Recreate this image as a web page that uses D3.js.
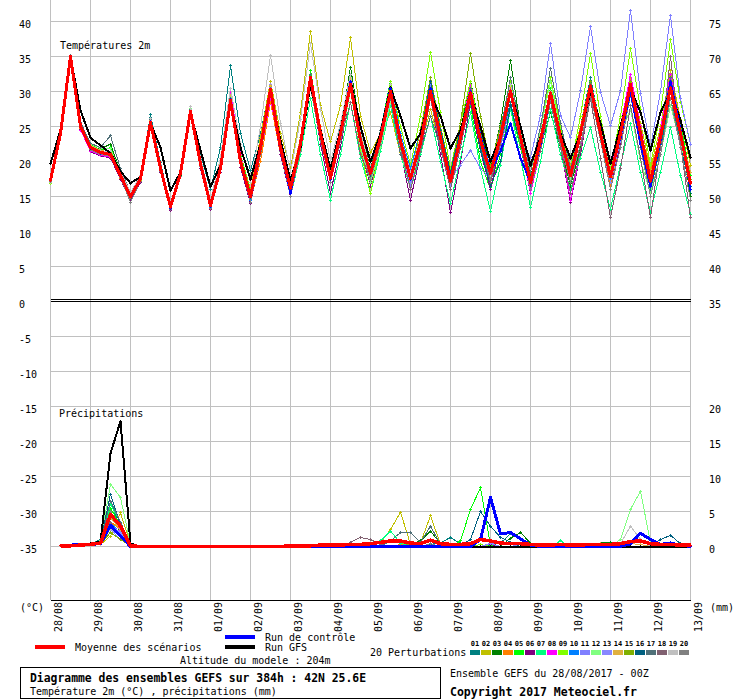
<!DOCTYPE html>
<html>
<head>
<meta charset="utf-8">
<script src="https://cdn.jsdelivr.net/npm/d3@7"></script>
<style>
  body { margin: 0; background: #fff; }
  text { font-family: "DejaVu Sans Mono", monospace; font-size: 10px; fill: #000; }
</style>
</head>
<body>
<script>
// dates at 00Z, one every 4 steps of 6h
const dates = ["28/08","29/08","30/08","31/08","01/09","02/09","03/09","04/09","05/09",
  "06/09","07/09","08/09","09/09","10/09","11/09","12/09","13/09"];
const tempTicks = [40,35,30,25,20,15,10,5,0,-5,-10,-15,-20,-25,-30,-35];
const rightTicks = [75,70,65,60,55,50,45,40,35];
const rainTicks = [20,15,10,5,0];
const pertLabels = ["01","02","03","04","05","06","07","08","09","10",
  "11","12","13","14","15","16","17","18","19","20"];
const pertColors = ["#008080","#c0c000","#008000","#ff8000","#00ff00","#800080","#00ff80","#ff00ff",
  "#80ff00","#0080ff","#8080ff","#80ff80","#8888ff","#e0b040","#80b000","#006080",
  "#507078","#806070","#c0c0c0","#808080"];

// 2m temperature (°C), 6-hourly, 65 points
const tempMean = [17.3,24.0,35.0,25.0, 22.0,21.3,21.0,18.0, 15.0,17.5,25.6,19.0, 13.5,18.3,27.2,19.7, 13.7,19.0,28.7,20.0, 15.0,22.0,30.3,22.0, 16.2,22.5,32.0,24.0, 17.6,24.0,31.0,23.0, 18.3,23.4,30.0,22.9, 17.6,22.7,30.0,23.4, 17.2,23.4,29.8,23.0, 18.3,23.5,30.1,23.5, 17.0,23.0,29.8,23.5, 18.0,24.0,30.8,24.0, 17.8,24.0,31.0,24.0, 17.2,23.5,30.5,24.0, 16.8];
const tempGfs = [19.7,24.5,35.0,27.3, 23.4,22.3,21.2,18.6, 16.9,17.8,25.5,22.0, 15.8,18.5,27.0,21.6, 16.4,19.5,28.5,22.0, 17.5,22.5,30.0,23.0, 17.3,22.0,31.0,24.5, 19.0,24.5,31.5,25.0, 20.0,24.0,30.6,26.5, 21.9,24.0,29.5,26.5, 21.9,24.5,29.5,25.0, 20.0,23.5,30.0,25.0, 19.5,23.5,29.5,24.0, 20.5,24.0,30.0,25.5, 19.7,25.0,30.5,27.0, 21.6,27.0,30.0,25.9, 20.6];
const tempCtrl = [17.3,24.0,35.0,25.0, 21.9,21.2,21.0,18.0, 15.0,17.5,25.7,19.0, 13.3,18.2,27.2,19.6, 13.6,19.0,28.8,20.0, 15.0,22.0,30.0,22.0, 15.5,22.5,32.0,24.0, 17.5,24.0,31.5,23.0, 18.5,23.5,30.5,23.0, 17.5,22.5,30.5,23.5, 17.5,23.5,30.0,23.5, 18.5,21.5,25.4,20.5, 17.0,22.5,29.5,23.5, 18.0,24.0,30.5,24.0, 18.0,23.5,30.0,22.5, 16.5,23.0,31.5,24.5, 16.0];
const tempPert = [
  [17.0,24.2,35.1,25.5, 22.3,21.5,21.4,18.4, 15.3,18.0,26.7,19.8, 13.8,18.5,27.8,21.0, 16.0,22.0,33.7,24.0, 18.7,24.0,31.0,23.0, 17.0,23.0,32.5,25.0, 18.5,25.0,32.0,24.0, 19.0,24.5,31.5,23.0, 18.0,23.0,31.0,24.5, 18.5,24.0,30.5,22.0, 17.0,22.5,28.5,22.0, 16.0,22.0,29.0,24.0, 19.0,25.0,32.0,25.0, 18.5,24.0,29.5,22.0, 16.0,22.0,29.0,23.0, 15.5],
  [17.4,23.8,34.8,24.8, 21.8,21.2,20.8,17.8, 14.8,17.3,25.3,18.8, 13.4,18.0,27.0,19.5, 13.8,19.5,29.0,21.0, 16.0,23.5,31.5,24.0, 19.0,27.0,38.6,28.0, 22.8,28.0,37.7,26.5, 21.3,24.0,27.0,21.0, 17.0,22.0,27.5,22.0, 16.5,23.0,30.5,24.0, 19.0,24.0,31.0,23.0, 17.5,24.5,31.5,25.0, 19.5,25.0,31.5,23.5, 17.0,23.5,32.0,25.5, 19.0,25.0,33.0,26.0, 19.5],
  [16.8,23.8,34.9,25.2, 22.2,21.8,22.5,18.5, 15.0,17.8,25.8,19.2, 13.3,18.0,27.4,19.4, 13.5,18.8,28.5,19.8, 14.5,21.5,29.8,21.5, 15.8,22.0,31.0,23.5, 17.0,24.5,33.5,24.5, 19.0,24.0,31.0,23.5, 18.0,23.0,30.5,24.0, 17.5,24.5,31.5,24.5, 19.0,25.5,34.4,25.0, 18.0,22.0,27.0,22.0, 16.5,22.0,29.5,23.0, 17.0,23.5,31.0,24.5, 18.0,23.0,31.5,24.5, 15.0],
  [17.2,24.1,35.0,24.7, 21.6,21.0,20.7,17.6, 14.6,17.2,25.4,18.6, 13.0,18.4,27.0,19.8, 13.4,19.2,29.0,20.5, 14.5,20.0,28.5,21.0, 15.5,23.0,32.5,25.0, 18.5,24.5,31.5,24.0, 18.5,23.5,30.5,23.5, 18.5,23.5,31.0,24.0, 17.5,23.0,29.0,22.5, 18.0,23.5,30.5,24.0, 17.5,23.5,30.0,23.5, 18.5,24.5,30.0,23.0, 16.5,23.0,31.0,24.5, 18.5,24.0,31.5,24.0, 17.5],
  [17.0,24.3,35.2,25.3, 22.4,21.6,22.0,18.3, 15.2,17.6,25.9,19.5, 13.6,18.6,27.5,20.2, 14.0,19.5,29.5,21.0, 15.5,22.5,30.5,22.5, 16.5,23.0,33.0,24.5, 18.0,24.5,32.0,23.5, 18.5,24.0,31.5,24.0, 18.5,23.5,30.0,23.0, 17.0,23.0,28.0,20.0, 16.0,21.0,27.5,22.0, 16.5,23.0,30.5,24.5, 18.5,24.0,31.0,24.5, 18.0,25.0,32.5,25.0, 17.5,24.0,32.0,25.5, 18.0],
  [17.1,23.9,34.9,24.6, 21.4,20.8,20.5,17.5, 14.4,17.0,25.0,18.5, 13.0,17.8,26.8,19.0, 13.2,18.5,28.0,19.2, 14.0,21.0,29.5,21.0, 15.0,21.5,31.0,22.5, 15.5,22.0,30.5,22.0, 16.5,22.5,30.0,21.5, 14.5,21.0,29.5,21.0, 12.7,20.0,28.5,21.5, 16.0,22.5,30.0,22.5, 15.5,22.0,29.0,22.0, 14.2,21.0,29.5,23.0, 16.0,22.5,30.5,23.5, 16.5,23.0,31.5,24.5, 17.5],
  [17.2,24.0,35.1,25.0, 22.1,21.4,21.2,18.2, 15.1,17.5,25.5,19.0, 13.6,18.2,27.1,19.6, 13.6,19.0,28.8,20.2, 15.5,22.0,30.0,21.5, 15.0,21.0,29.0,21.0, 14.5,21.0,28.5,20.5, 15.5,21.5,28.0,21.0, 16.0,21.0,26.5,20.0, 14.0,20.5,27.0,19.0, 12.9,19.5,27.5,20.5, 13.4,20.0,27.5,21.0, 16.0,20.5,24.9,18.5, 13.2,19.5,25.4,18.5, 12.7,18.5,24.9,18.0, 12.5],
  [17.3,24.0,34.8,24.5, 21.5,20.9,20.6,17.8, 14.8,17.4,25.5,18.8, 13.2,18.1,27.0,19.5, 13.5,19.5,30.0,21.0, 14.5,21.0,29.0,21.5, 15.5,22.0,31.5,23.0, 17.0,23.5,30.5,23.0, 18.0,23.0,30.0,22.5, 17.0,23.0,30.5,23.5, 17.0,24.0,31.0,23.5, 18.5,24.0,31.0,23.0, 15.5,21.5,28.5,22.5, 14.5,21.5,29.5,24.0, 18.5,25.0,32.5,25.0, 17.5,24.5,32.5,25.0, 17.0],
  [16.9,23.9,35.0,25.1, 22.0,21.2,20.9,18.0, 15.0,17.7,25.8,19.1, 13.5,18.4,27.3,19.8, 13.8,19.2,28.9,20.4, 15.2,22.2,30.5,22.0, 16.5,23.0,32.5,24.0, 17.0,23.0,30.5,21.5, 15.4,22.5,31.5,25.0, 19.5,26.5,35.6,27.0, 19.0,25.5,31.5,24.0, 18.5,24.5,31.5,24.5, 18.5,25.0,32.0,25.0, 19.0,26.5,35.4,26.5, 19.0,26.5,36.1,27.5, 19.5,27.0,37.4,28.5, 22.5],
  [17.5,24.2,35.0,25.2, 22.2,21.5,21.2,18.3, 15.4,17.8,25.7,19.3, 13.4,18.3,27.2,19.8, 13.5,19.0,28.5,20.0, 14.5,21.5,29.5,22.0, 15.5,22.5,32.0,24.5, 18.0,24.0,31.5,23.5, 18.5,24.0,31.0,24.0, 19.0,24.5,31.5,24.0, 18.5,24.0,30.0,23.0, 19.5,24.5,31.0,23.5, 16.5,22.5,29.5,23.0, 17.5,23.5,30.5,24.0, 17.5,23.5,30.0,23.0, 17.0,23.0,31.0,25.0, 16.5],
  [17.2,23.9,34.9,24.8, 21.8,21.1,20.9,17.9, 14.9,17.4,25.5,18.9, 13.3,18.2,27.0,19.6, 13.6,18.8,28.5,19.8, 14.8,22.0,30.5,22.5, 16.0,22.0,31.5,23.5, 17.5,23.5,30.0,22.5, 17.0,22.0,29.0,22.0, 16.5,22.5,31.0,24.0, 17.5,19.5,21.6,19.0, 17.5,22.0,28.0,23.0, 20.6,26.6,36.9,26.6, 23.4,30.1,39.3,29.9, 25.1,30.1,41.6,29.7, 22.0,30.0,40.9,29.0, 22.5],
  [17.0,24.1,35.1,25.4, 22.5,21.9,21.8,18.6, 15.3,17.9,26.0,19.4, 13.7,18.6,27.6,20.0, 13.9,19.4,29.2,20.6, 15.4,22.5,30.0,22.0, 16.0,22.0,31.0,23.0, 17.5,23.0,30.0,22.0, 17.0,22.0,28.5,21.5, 16.0,22.0,29.5,23.5, 17.5,23.5,30.5,24.0, 18.5,24.0,31.0,24.5, 18.5,24.5,31.5,24.0, 17.5,23.5,31.5,25.0, 18.5,24.0,27.5,20.0, 15.5,21.0,28.0,22.5, 16.0],
  [17.3,24.0,35.0,25.1, 21.9,21.3,21.1,18.1, 15.0,17.5,25.6,19.0, 13.5,18.3,27.2,19.7, 13.9,19.3,28.5,20.3, 15.5,22.5,31.0,22.5, 16.5,22.5,31.5,23.5, 17.5,24.0,31.5,23.0, 18.0,23.0,29.0,22.0, 17.0,22.0,29.0,22.5, 16.5,22.5,29.5,23.0, 18.0,23.0,29.5,23.0, 17.0,22.5,29.0,23.0, 18.0,23.5,30.0,23.5, 17.0,23.0,30.5,24.0, 16.5,23.0,30.0,23.5, 16.0],
  [17.4,24.2,35.2,25.3, 22.3,21.6,21.3,18.4, 15.2,17.7,25.9,19.4, 13.6,18.5,27.4,20.0, 13.8,19.6,29.4,20.8, 15.2,22.3,30.8,22.8, 17.0,23.5,32.5,24.5, 18.0,24.5,32.0,24.5, 18.5,24.0,30.5,23.0, 17.5,23.0,30.5,24.0, 18.0,24.0,30.0,23.5, 18.5,24.0,29.5,23.0, 17.5,23.0,29.0,23.5, 18.0,24.0,30.5,24.0, 18.0,24.5,31.5,24.5, 18.0,24.0,30.5,24.0, 18.5],
  [17.1,23.8,34.9,24.9, 21.9,21.4,21.5,18.2, 14.9,17.4,25.4,18.9, 13.4,18.2,27.1,19.5, 13.7,19.0,28.8,20.2, 15.3,22.0,30.0,21.8, 16.2,22.5,32.0,24.0, 17.5,24.0,31.5,23.5, 18.0,23.5,30.5,23.5, 18.0,24.5,32.0,25.0, 18.5,25.5,35.4,26.5, 19.5,25.0,31.0,24.0, 17.5,23.0,29.5,23.5, 18.0,24.0,31.5,24.5, 18.5,24.5,31.5,24.5, 17.5,24.0,31.0,24.5, 17.5],
  [17.2,24.0,35.0,25.0, 22.0,21.4,21.2,18.2, 15.1,17.6,25.7,19.1, 13.4,18.2,27.1,19.6, 13.6,18.9,28.6,19.9, 14.8,21.8,30.0,21.8, 16.0,22.5,32.0,23.5, 17.5,23.5,31.0,23.0, 18.0,23.5,30.5,23.5, 18.0,23.5,31.5,24.5, 18.5,24.5,30.5,21.5, 16.5,20.0,28.0,22.5, 16.5,22.5,29.5,23.5, 18.0,23.5,30.0,23.5, 18.5,24.0,30.5,24.0, 17.5,23.0,29.0,22.0, 16.5],
  [17.3,24.1,35.1,25.6, 22.6,22.0,23.7,19.0, 15.5,18.0,26.0,19.5, 13.8,18.6,27.5,20.2, 14.0,19.3,29.0,20.5, 15.0,21.5,29.5,21.5, 16.5,23.0,32.5,24.0, 18.0,24.5,31.5,23.5, 18.5,24.5,29.0,21.0, 18.0,21.5,26.5,22.0, 17.5,23.5,30.5,24.0, 18.5,24.5,32.0,25.0, 18.5,25.0,33.3,25.5, 19.0,24.5,31.0,24.0, 18.0,24.0,31.0,23.5, 17.0,24.0,32.0,25.0, 17.0],
  [17.4,24.1,34.9,25.0, 21.8,21.2,20.9,18.0, 15.0,17.4,25.5,18.9, 13.5,18.3,27.0,19.6, 13.6,19.0,28.7,20.0, 15.0,22.0,30.5,22.0, 16.0,22.0,31.0,23.0, 17.0,23.0,28.5,21.0, 17.5,22.5,29.5,22.0, 16.0,21.5,29.0,22.0, 16.0,22.0,29.0,22.5, 17.0,22.5,29.5,23.0, 16.0,21.5,28.5,22.0, 15.5,21.5,29.0,20.5, 12.0,19.0,28.0,20.5, 12.0,22.0,35.0,22.5, 12.0],
  [17.0,24.0,35.0,25.2, 22.1,21.5,21.4,18.5, 15.6,18.0,26.2,19.6, 14.0,18.8,27.8,20.5, 14.5,20.5,30.5,22.5, 17.0,25.0,35.2,25.5, 18.5,26.0,36.9,27.5, 20.0,25.5,32.5,24.5, 18.5,24.0,31.0,23.5, 18.5,23.5,30.5,23.5, 17.5,23.5,30.0,23.5, 18.0,24.0,31.0,24.0, 17.5,23.5,30.0,23.5, 18.0,24.0,30.5,24.0, 18.0,24.0,30.0,22.5, 17.0,23.5,31.0,24.5, 17.0],
  [17.2,23.9,34.8,24.8, 21.7,21.0,20.8,17.7, 14.2,17.2,25.2,18.6, 13.1,17.9,26.9,19.3, 13.3,18.8,28.2,19.7, 14.2,21.0,29.5,21.5, 15.0,21.5,30.5,23.0, 17.0,23.0,30.5,22.5, 17.5,23.0,30.0,22.5, 17.5,22.5,29.5,23.0, 17.0,23.0,30.0,23.0, 17.5,23.0,29.5,22.5, 16.0,22.0,29.0,22.5, 17.0,22.5,29.5,23.0, 16.0,22.0,29.5,22.0, 15.0,21.0,29.0,22.0, 14.5]
];

// 6-hour precipitation (mm), first step has no value
const rainMean = [null, 0.1,0.1,0.2,0.3,0.5,4.6,2.9,0.1, 0,0,0,0,0,0,0,0, 0,0,0,0,0,0,0,0.1, 0.1,0.1,0.2,0.2,0.2,0.3,0.3,0.4, 0.6,0.8,0.8,0.5,0.4,0.9,0.4,0.3, 0.3,0.4,1.0,0.8,0.5,0.4,0.4,0.3, 0.2,0.2,0.3,0.2,0.2,0.3,0.3,0.3, 0.4,0.7,0.8,0.4,0.3,0.3,0.2,0.2];
const rainGfs = [null, 0.1,0.1,0.3,0.4,0.7,13.3,17.9,0.4, 0,0,0,0,0,0,0,0, 0,0,0,0,0,0,0,0, 0,0,0,0,0,0,0,0, 0,0,0,0,0,0,0,0, 0,0,0,0,0,0,0,0, 0,0,0,0,0,0,0,0, 0,0,0,0,0,0,0,0];
const rainCtrl = [null, 0.1,0.2,0.3,0.3,0.4,3.0,1.5,0, 0,0,0,0,0,0,0,0, 0,0,0,0,0,0,0,0, 0,0,0,0,0,0,0,0, 0,0,0,0,0,0,0,0, 0,0,1.0,7.0,1.8,2.0,1.1,0.2, 0,0,0,0,0,0,0,0, 0,0.4,1.9,1.0,0.3,0.5,0.2,0];
const rainPert = [
  [null, 0.1,0.1,0.2,0.3,1.0,6.5,2.5,0.2, 0,0,0,0,0,0,0,0, 0,0,0,0,0,0,0,0.1, 0,0,0,0,0.2,0.1,0,0, 0,0,0,0,0,0.3,0.5,1.3, 0.4,0,0,0.2,0.5,1.8,1.0,0.3, 0,0,0,0,0,0,0,0, 0,0,0,0,0,0,0,0],
  [null, 0.1,0.1,0.2,0.2,0.3,1.5,4.8,0.3, 0,0,0,0,0,0,0,0, 0,0,0,0,0,0,0,0, 0,0,0,0,0,0,0,0.3, 0.5,2.4,4.9,0.3,0.5,4.4,0.3,0, 0,0,0,0,0,0,0,0, 0,0,0,0,0,0,0,0, 0,0,0,0,0,0,0,0],
  [null, 0.1,0.2,0.2,0.3,0.5,4.5,2.0,0.1, 0,0,0,0,0,0,0,0, 0,0,0,0,0,0,0,0, 0,0,0,0,0,0,0,0, 0,0,0,0.3,0.8,2.2,0.4,0, 0,0,0,0,0,1.2,2.0,0.5, 0,0,0,0,0,0,0.5,0.6, 0.3,0,0,0,0,0,0,0],
  [null, 0.1,0.1,0.2,0.2,0.4,3.5,2.5,0.1, 0,0,0,0,0,0,0,0, 0,0,0,0,0,0,0,0, 0,0,0,0,0,0,0,0, 0,0,0.3,0.5,0,0,0,0, 0,0,0,0,0,0,0,0, 0,0,0,0,0,0,0,0, 0,0,0,0,0,0,0,0],
  [null, 0.1,0.1,0.3,0.3,0.6,5.5,3.0,0.2, 0,0,0,0,0,0,0,0, 0,0,0,0,0,0,0,0, 0,0,0,0,0,0,0,0, 0,0,0,0,0,0,0,0, 0.8,5.3,8.4,0.2,0,0,0,0, 0,0,0,0,0,0,0,0, 0,0,0,0,0,0,0,0],
  [null, 0.1,0.1,0.2,0.2,0.3,3.0,1.5,0.1, 0,0,0,0,0,0,0,0, 0,0,0,0,0,0,0,0, 0,0,0,0,0,0,0,0, 0,0,0,0,0,0,0,0, 0,0,0,0.3,0,0,0,0, 0,0,0,0,0,0,0,0, 0,0,0,0,0,0,0,0],
  [null, 0.1,0.2,0.2,0.3,0.5,6.0,3.5,0.2, 0,0,0,0,0,0,0,0, 0,0,0,0,0,0,0,0, 0,0,0,0,0,0,0,0, 0.8,2.2,0.5,0,0,0,0,0, 0,0,0,0,0,0,0,0, 0,0,0.8,0,0,0,0,0, 0,0,0,0,0,0,0,0],
  [null, 0.1,0.1,0.2,0.3,0.6,5.0,2.0,0.1, 0,0,0,0,0,0,0,0, 0,0,0,0,0,0,0,0, 0,0,0,0,0,0,0,0, 0,0,0,0,0,0,0,0, 0,0,0,0,0,0,0,0, 0,0,0,0,0,0,0,0, 0,0,0,0,0,0,0,0],
  [null, 0.1,0.1,0.2,0.2,0.4,4.0,3.5,0.2, 0,0,0,0,0,0,0,0, 0,0,0,0,0,0,0,0, 0,0,0,0,0,0,0,0, 0,0,0,0,0,0,0,0, 0,0,0.3,0,0,0,0,0, 0,0,0,0,0,0,0,0, 0,0,0,0,0,0,0,0],
  [null, 0.1,0.1,0.2,0.2,0.3,3.5,1.8,0.1, 0,0,0,0,0,0,0,0, 0,0,0,0,0,0,0,0, 0,0,0,0,0,0,0,0, 0,0,0,0,0,0,0,0, 0,0,0,0,0,0,0,0, 0,0,0,0,0,0,0,0, 0,0,0,0,0,0,0,0],
  [null, 0.1,0.1,0.1,0.2,0.5,2.5,1.0,0.1, 0,0,0,0,0,0,0,0, 0,0,0,0,0,0,0,0, 0,0,0,0,0,0,0,0, 0,0,0,0,0,0,0,0, 0,0,0,0.5,0.5,0.3,0,0, 0,0,0,0,0,0,0,0, 0,0,0,0,0,0,0,0],
  [null, 0.1,0.2,0.3,0.3,0.8,8.9,7.0,0.3, 0,0,0,0,0,0,0,0, 0,0,0,0,0,0,0,0, 0,0,0,0,0,0,0,0, 0,0,0,0,0,0,0,0, 0,0,0,0,0,0,0,0, 0,0,0,0,0,0,0,0, 1.0,5.3,7.9,0.5,0,0,0,0],
  [null, 0.1,0.1,0.2,0.2,0.4,3.0,2.0,0.1, 0,0,0,0,0,0,0,0, 0,0,0,0,0,0,0,0, 0,0,0,0,0,0,0,0, 0,0,0,0,0,0,0,0, 0,0,0,0.4,0,0,0,0, 0,0,0,0,0,0,0,0, 0,0,0,0,0,0,0,0],
  [null, 0.1,0.1,0.2,0.3,0.5,4.0,2.5,0.1, 0,0,0,0,0,0,0,0, 0,0,0,0,0,0,0,0, 0,0,0,0,0,0,0,0, 0,0,0,0,0,0,0,0, 0,0,0,0,0,0,0,0, 0,0,0,0,0,0,0.4,0, 0,0.4,0.3,0,0,0,0,0],
  [null, 0.1,0.1,0.2,0.2,0.3,2.0,1.0,0.1, 0,0,0,0,0,0,0,0, 0,0,0,0,0,0,0,0, 0,0,0,0,0,0,0,0, 0,0,0,0.4,0,0,0,0, 0,0,0,0,0,0,0,0, 0,0,0,0,0,0,0,0, 0,0,0,0,0,0,0,0],
  [null, 0.1,0.2,0.3,0.3,0.7,7.5,3.0,0.2, 0,0,0,0,0,0,0,0, 0,0,0,0,0,0,0,0, 0,0,0,0,0,0,0,0, 0,0,0,0,0,0,0,0, 0.2,1.0,5.0,2.9,1.3,0.6,0,0, 0,0,0,0,0,0,0,0, 0,0,0,0,1.0,1.6,0.4,0],
  [null, 0.1,0.1,0.2,0.3,0.6,6.5,3.5,0.2, 0,0,0,0,0,0,0,0, 0,0,0,0,0,0,0,0, 0,0,0,0,0,0,0,0, 0,0.8,2.0,2.0,0.6,2.9,0.3,0, 0,0,0,0,0,0,0,0, 0,0,0,0,0,0,0,0, 0,0,0,0,0,0,0,0],
  [null, 0.1,0.1,0.2,0.2,0.4,3.5,1.2,0.1, 0,0,0,0,0,0,0,0, 0,0,0,0,0,0,0,0, 0,0,0,0,0,0.6,1.3,1.0, 0.3,0,0,0,0,0,0,0, 0,0,0,0,0,0,0,0, 0,0,0,0,0,0,0,0, 0,0,0,0,0,0,0,0],
  [null, 0.1,0.1,0.2,0.2,0.3,2.5,1.5,0.1, 0,0,0,0,0,0,0,0, 0,0,0,0,0,0,0,0, 0,0,0,0,0,0,0,0, 0,0,0,0,0,0,0,0, 0,0,0,0,0,0,0,0, 0,0,0,0,0,0,0,0, 0.4,2.9,1.0,0,0,0,0,0],
  [null, 0.1,0.1,0.2,0.3,0.5,5.0,2.8,0.2, 0,0,0,0,0,0,0,0, 0,0,0,0,0,0,0,0, 0,0,0,0,0,0,0,0, 0,0,0,0,0,0.4,0,0, 0,0,0,0,0,0,0,0, 0,0,0,0,0,0,0,0, 0,0,0,0,0,0,0,0]
];

const svg = d3.select("body").append("svg")
  .attr("width", 740)
  .attr("height", 700)
  .style("display", "block");

// 10px per 6h step, 7px per degree / per mm
const x = d3.scaleLinear().domain([0, 64]).range([50.5, 690.5]);
const yT = d3.scaleLinear().domain([-35, 40]).range([546.5, 21.5]);
const yR = d3.scaleLinear().domain([0, 75]).range([546.5, 21.5]);

// grid
const grid = svg.append("g").attr("stroke", "#c0c0c0").attr("shape-rendering", "crispEdges");
grid.selectAll("line.v").data(dates).join("line")
  .attr("class", "v")
  .attr("x1", (d, i) => x(i * 4)).attr("x2", (d, i) => x(i * 4))
  .attr("y1", 0).attr("y2", 600);
grid.selectAll("line.h").data(tempTicks.filter((v) => v !== 0)).join("line")
  .attr("class", "h")
  .attr("x1", x(0)).attr("x2", x(64))
  .attr("y1", (d) => yT(d)).attr("y2", (d) => yT(d));

const frame = svg.append("g").attr("stroke", "#000").attr("shape-rendering", "crispEdges");
[yT(0) - 2, yT(0)].forEach((yy) => {
  frame.append("line").attr("x1", x(0)).attr("x2", x(64)).attr("y1", yy).attr("y2", yy);
});
frame.append("line").attr("x1", x(0)).attr("x2", x(64)).attr("y1", 600.5).attr("y2", 600.5);

// axis labels
svg.append("g").selectAll("text").data(tempTicks).join("text")
  .attr("x", 19).attr("y", (d) => yT(d) + 6)
  .text((d) => d);
svg.append("g").selectAll("text").data(rightTicks).join("text")
  .attr("x", 709).attr("y", (d) => yR(d) + 6)
  .text((d) => d);
svg.append("g").selectAll("text").data(rainTicks).join("text")
  .attr("x", 709).attr("y", (d) => yR(d) + 6)
  .text((d) => d);
svg.append("g").selectAll("text").data(dates).join("text")
  .attr("transform", (d, i) => `translate(${x(i * 4) + 11.5},602) rotate(-90)`)
  .attr("text-anchor", "end")
  .text((d) => d);
svg.append("text").attr("x", 20).attr("y", 611).text("(°C)");
svg.append("text").attr("x", 710).attr("y", 611).text("(mm)");
svg.append("text").attr("x", 60).attr("y", 49).text("Températures 2m");
svg.append("text").attr("x", 59).attr("y", 417).text("Précipitations");

// series
const plot = svg.append("g");
function drawSeries(values, yScale, color, width) {
  const line = d3.line()
    .defined((d) => d != null)
    .x((d, i) => x(i))
    .y((d) => yScale(d));
  plot.append("path").datum(values)
    .attr("fill", "none")
    .attr("stroke", color)
    .attr("stroke-width", width)
    .attr("stroke-linejoin", "round")
    .attr("shape-rendering", "crispEdges")
    .attr("d", line);
  // small + at each point
  plot.append("path")
    .attr("fill", "none")
    .attr("stroke", color)
    .attr("stroke-width", 1)
    .attr("shape-rendering", "crispEdges")
    .attr("d", values.map((d, i) => d == null ? "" :
      `M${x(i) - 1.5},${yScale(d)}h3M${x(i)},${yScale(d) - 1.5}v3`).join(""));
}

tempPert.forEach((s, k) => drawSeries(s, yT, pertColors[k], 1));
rainPert.forEach((s, k) => drawSeries(s, yR, pertColors[k], 1));
drawSeries(tempGfs, yT, "#000", 2);
drawSeries(rainGfs, yR, "#000", 2);
drawSeries(tempCtrl, yT, "#0000ff", 2);
drawSeries(rainCtrl, yR, "#0000ff", 3);
drawSeries(tempMean, yT, "#ff0000", 3);
drawSeries(rainMean, yR, "#ff0000", 3.5);

// legend
const leg = svg.append("g");
leg.append("line").attr("x1", 35).attr("x2", 65).attr("y1", 647).attr("y2", 647)
  .attr("stroke", "#ff0000").attr("stroke-width", 4);
leg.append("text").attr("x", 75).attr("y", 651).text("Moyenne des scénarios");
leg.append("line").attr("x1", 225).attr("x2", 255).attr("y1", 637).attr("y2", 637)
  .attr("stroke", "#0000ff").attr("stroke-width", 4);
leg.append("text").attr("x", 265).attr("y", 641).text("Run de contrôle");
leg.append("line").attr("x1", 225).attr("x2", 255).attr("y1", 647).attr("y2", 647)
  .attr("stroke", "#000").attr("stroke-width", 4);
leg.append("text").attr("x", 265).attr("y", 651).text("Run GFS");
leg.append("text").attr("x", 180).attr("y", 664).text("Altitude du modele : 204m");
leg.append("text").attr("x", 370).attr("y", 656).text("20 Perturbations");

leg.selectAll("rect.sw").data(pertColors).join("rect")
  .attr("class", "sw")
  .attr("x", (d, i) => 470 + i * 11).attr("y", 650)
  .attr("width", 10).attr("height", 5)
  .attr("fill", (d) => d);
leg.selectAll("text.sw").data(pertLabels).join("text")
  .attr("class", "sw")
  .attr("x", (d, i) => 475 + i * 11).attr("y", 646)
  .attr("text-anchor", "middle")
  .style("font-size", "7px").style("font-weight", "bold")
  .text((d) => d);

leg.append("rect").attr("x", 20.5).attr("y", 667.5).attr("width", 420).attr("height", 31)
  .attr("fill", "none").attr("stroke", "#000").attr("shape-rendering", "crispEdges");
leg.append("text").attr("x", 30).attr("y", 682)
  .style("font-size", "11.4px").style("font-weight", "bold")
  .text("Diagramme des ensembles GEFS sur 384h : 42N 25.6E");
leg.append("text").attr("x", 30).attr("y", 695).text("Température 2m (°C) , précipitations (mm)");
leg.append("text").attr("x", 450).attr("y", 677).text("Ensemble GEFS du 28/08/2017 - 00Z");
leg.append("text").attr("x", 450).attr("y", 696)
  .style("font-size", "11.5px").style("font-weight", "bold")
  .text("Copyright 2017 Meteociel.fr");
</script>
</body>
</html>
